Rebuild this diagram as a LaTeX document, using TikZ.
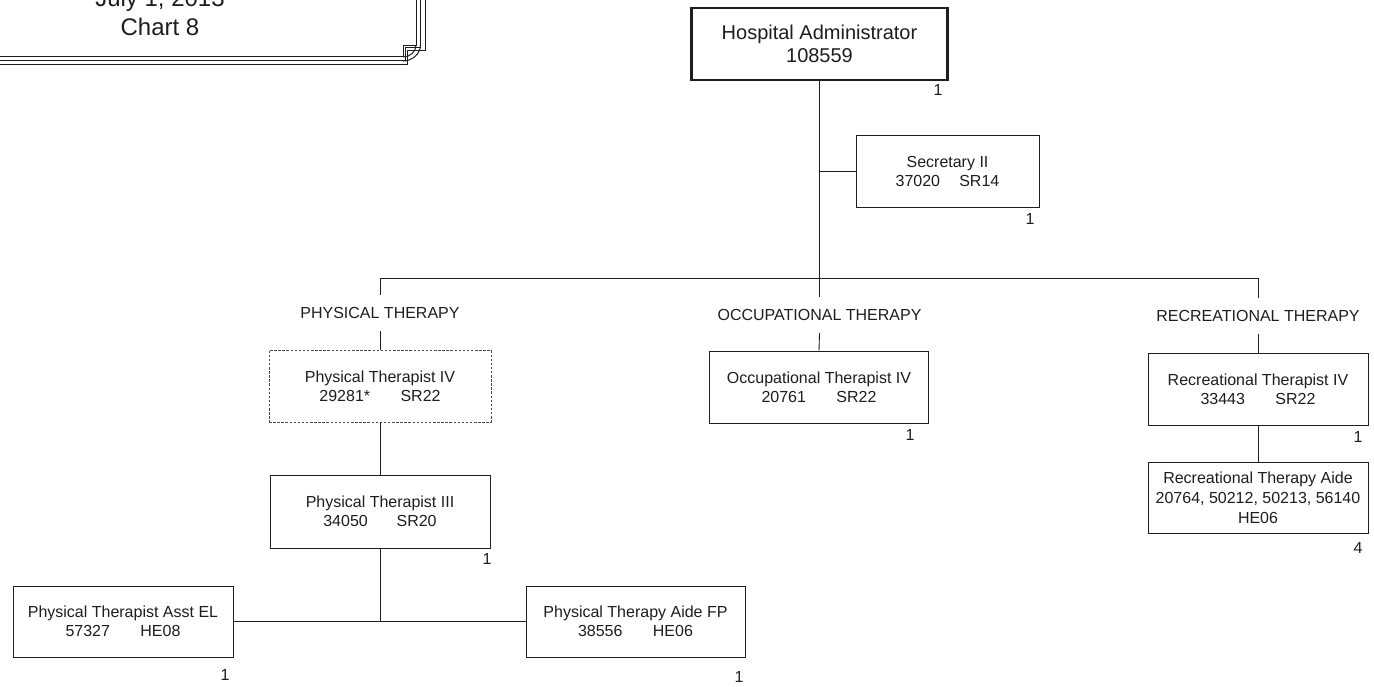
\documentclass[tikz,border=0pt]{standalone}
\usepackage{fontspec}
\setmainfont{Liberation Sans}
\definecolor{ink}{HTML}{1E1E1E}
\begin{document}
\begin{tikzpicture}[x=1pt,y=-1pt,
  every node/.style={text=ink},
  box/.style={draw=ink, line width=0.9pt, fill=white, align=center, inner sep=0pt,
              minimum height=72pt, font=\fontsize{16}{19}\selectfont},
  dbox/.style={box, draw=ink!80, dash pattern=on 2.5pt off 1.6pt},
  lab/.style={inner sep=0pt, minimum height=36pt, font=\fontsize{16}{19}\selectfont},
  cnt/.style={inner sep=0pt, font=\fontsize{16}{19}\selectfont},
  conn/.style={draw=ink, line width=0.9pt},
  frame/.style={draw=ink, line width=1pt}
]
\useasboundingbox (0,0) rectangle (1374,686);

% title frame (top-left)
\node[anchor=base, font=\fontsize{24}{28}\selectfont] (t1) at (160,6) {July 1, 2013};
\node[anchor=base, font=\fontsize{24}{28}\selectfont] (t2) at (160,35) {Chart 8};
\foreach \i in {0,1,2}{
  \pgfmathsetmacro{\yh}{56+4*\i}
  \pgfmathsetmacro{\xv}{416+4.5*\i}
  \pgfmathsetmacro{\ax}{403+2*\i}
  \pgfmathsetmacro{\by}{45+2.5*\i}
  \draw[frame] (0,\yh) -- (\ax,\yh) -- (\ax,\by) -- (\xv,\by) -- (\xv,-2);
}
\draw[frame] (403,57) .. controls (410,57) and (416,52) .. (416,45);
\draw[frame] (403,61) .. controls (412,61) and (420.5,54) .. (420.5,45);

% nodes
\node[box, minimum width=256pt, line width=2.8pt, font=\fontsize{20}{23}\selectfont] (admin) at (819.5,44) {Hospital Administrator\\108559};
\node[box, minimum width=183pt] (sec) at (947.5,171) {Secretary II\\37020\hspace{1.2em}SR14};

\coordinate (busL) at (380,278);
\coordinate (busR) at (1258,278);

\node[lab] (ptl) at (380,313) {PHYSICAL THERAPY};
\node[lab] (otl) at (819.5,315) {OCCUPATIONAL THERAPY};
\node[lab] (rtl) at (1258,316) {RECREATIONAL THERAPY};

\node[dbox, minimum width=222pt] (pt4) at (380,386) {Physical Therapist IV\\29281*\hspace{1.9em}SR22};
\node[box, minimum width=220pt, minimum height=73pt] (pt3) at (380,511.5) {Physical Therapist III\\34050\hspace{1.8em}SR20};
\node[box, minimum width=220pt, minimum height=71pt] (pta) at (123,621.5) {Physical Therapist Asst EL\\57327\hspace{1.9em}HE08};
\node[box, minimum width=219pt, minimum height=71pt] (aide) at (635.5,621.5) {Physical Therapy Aide FP\\38556\hspace{1.9em}HE06};
\node[box, minimum width=219pt] (ot) at (819,387) {Occupational Therapist IV\\20761\hspace{1.9em}SR22};
\node[box, minimum width=220pt] (rt4) at (1258,389) {Recreational Therapist IV\\33443\hspace{1.9em}SR22};
\node[box, minimum width=220pt, minimum height=71pt, font=\fontsize{16}{20}\selectfont] (rta) at (1258,497.5) {Recreational Therapy Aide\\20764, 50212, 50213, 56140\\HE06};

% counts
\node[cnt] (c1) at (938,90) {1};
\node[cnt] (c2) at (1030,219) {1};
\node[cnt] (c3) at (910,435) {1};
\node[cnt] (c4) at (487,559) {1};
\node[cnt] (c5) at (225,675) {1};
\node[cnt] (c6) at (739,677) {1};
\node[cnt] (c7) at (1358,437) {1};
\node[cnt] (c8) at (1358,548) {4};

% connectors
\draw[conn] (admin.south) -- (admin.south |- busL);
\draw[conn] (admin.south |- sec.west) -- (sec.west);
\draw[conn] (busL) -- (busR);
\draw[conn] (busL) -- (ptl.north);
\draw[conn] (otl.north |- busL) -- (otl.north);
\draw[conn] (busR) -- (rtl.north);
\draw[conn] (ptl.south) -- (pt4.north);
\draw[conn] (otl.south) -- (ot.north);
\draw[conn] (rtl.south) -- (rt4.north);
\draw[conn] (pt4.south) -- (pt3.north);
\draw[conn] (rt4.south) -- (rta.north);
\draw[conn] (pt3.south) -- (pt3.south |- pta.east);
\draw[conn] (pta.east) -- (aide.west);
\end{tikzpicture}
\end{document}
